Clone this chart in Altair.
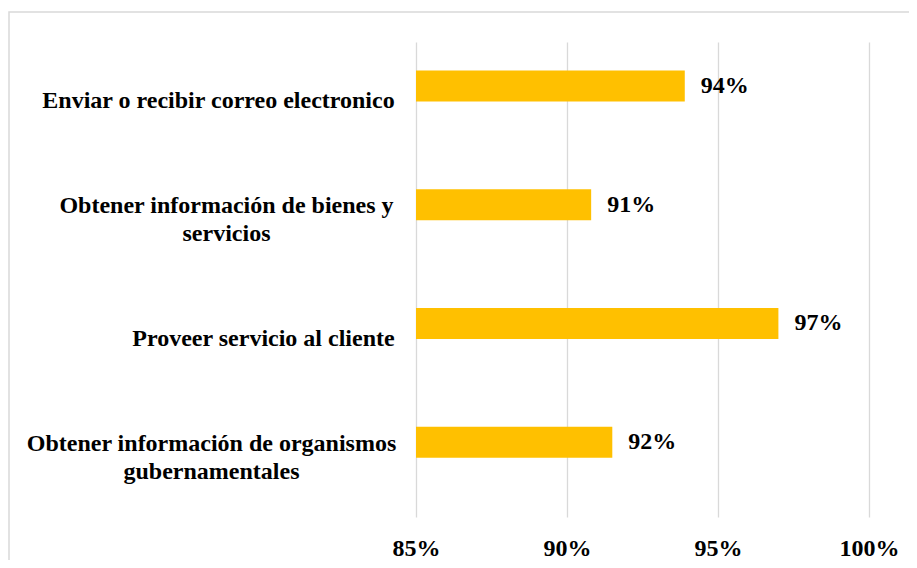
import json
import altair as alt
import pandas as pd

# ---- data ----
categories = [
    "Enviar o recibir correo electronico",
    "Obtener información de bienes y\nservicios",
    "Proveer servicio al cliente",
    "Obtener información de organismos\ngubernamentales",
]
values = [93.9, 90.8, 97.0, 91.5]
x_ticks = [85, 90, 95, 100]

df = pd.DataFrame({"actividad": categories, "valor": values})

FONT = "Times New Roman, Liberation Serif, serif"
BAR = "#FFC000"
GRID = "#D9D9D9"
FS = 24

# per-label distance from axis to the centre of the (centred) label block
label_centre_pad = [198, 190, 153, 205]
pad_expr = ""
for cat, p in zip(categories[:-1], label_centre_pad[:-1]):
    pad_expr += f"datum.value === {json.dumps(cat, ensure_ascii=False)} ? {p} : "
pad_expr += str(label_centre_pad[-1])

offset_expr = "indexof(datum.value, " + json.dumps("\n") + ") >= 0 ? -14 : 0"

y_enc = alt.Y(
    "actividad:N",
    sort=None,
    scale=alt.Scale(paddingInner=0, paddingOuter=0),
    axis=alt.Axis(
        title=None,
        labelExpr="split(datum.label, '\\n')",
        labelAlign="center",
        labelBaseline="middle",
        labelPadding={"expr": pad_expr},
        labelOffset={"expr": offset_expr},
        labelLineHeight=28,
        labelLimit=1000,
        ticks=False,
        domain=False,
        grid=False,
        labelFont=FONT,
        labelFontSize=FS,
        labelFontWeight="bold",
        labelColor="black",
    ),
)

x_enc = alt.X(
    "valor:Q",
    scale=alt.Scale(domain=[85, 100], nice=False, zero=False),
    axis=alt.Axis(
        values=x_ticks,
        title=None,
        labelExpr="datum.value + '%'",
        grid=True,
        gridColor=GRID,
        gridWidth=1.3,
        domain=False,
        ticks=False,
        labelFont=FONT,
        labelFontSize=FS,
        labelFontWeight="bold",
        labelColor="black",
        labelBaseline="alphabetic",
        labelPadding=38,
        labelFlush=False,
    ),
)

base = alt.Chart(df)

bars = base.mark_bar(color=BAR, size=31, yOffset=-15.5).encode(
    x=x_enc,
    x2=alt.datum(85),
    y=y_enc,
)

texts = base.transform_calculate(
    etiqueta="round(datum.valor) + '%'"
).mark_text(
    align="left",
    baseline="middle",
    dx=16,
    yOffset=-15.5,
    font=FONT,
    fontSize=FS,
    fontWeight="bold",
    color="black",
).encode(
    x=alt.X("valor:Q"),
    y=alt.Y("actividad:N", sort=None),
    text="etiqueta:N",
)

frame = alt.Chart(pd.DataFrame({"k": [0]})).mark_rect(
    filled=False, stroke=GRID, strokeWidth=1.5
).encode(
    x=alt.value(-407),
    x2=alt.value(560),
    y=alt.value(-30),
    y2=alt.value(600),
)

chart = (
    alt.layer(frame, bars, texts)
    .properties(
        width=453,
        height=475,
        autosize=alt.AutoSizeParams(type="none"),
        padding={"left": 408, "top": 34, "right": 40, "bottom": 43},
        background="white",
    )
    .configure_view(stroke=None)
)

chart.save("out.html", embed_options={"renderer": "svg", "actions": False})
